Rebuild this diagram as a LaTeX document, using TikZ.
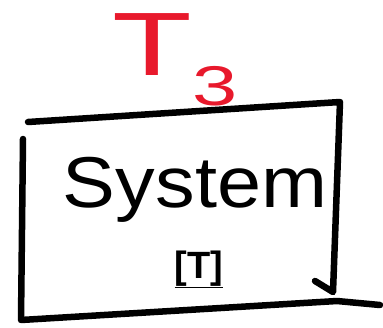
\documentclass[tikz,border=0pt]{standalone}
\usepackage{fontspec}
\setmainfont{Liberation Sans}
\definecolor{penred}{HTML}{E8192C}
\begin{document}
\begin{tikzpicture}[x=1pt,y=-1pt,
  pen/.style={line width=6.5pt,line cap=round,line join=round,black}]
\useasboundingbox (0,0) rectangle (383,327);
% box
\coordinate (tl) at (28,122);
\coordinate (tr) at (340,102);
\coordinate (br) at (333,292);
\coordinate (hk) at (315,281);
\coordinate (lt) at (23,139);
\coordinate (lb) at (21,320);
\coordinate (be) at (380,305);
\draw[pen] (tl) -- (tr) -- (br) -- (hk);
\draw[pen] (lt) -- (lb) -- (337,301) -- (be);
% labels
\node[anchor=base,inner sep=0pt,xscale=1.1,font=\fontsize{72}{72}\selectfont] (sys) at (195,207) {System};
\node[anchor=base,inner sep=0pt,font=\fontsize{38}{38}\selectfont\bfseries] (sym) at (199,278) {\underline{[T]}};
\node[anchor=base,inner sep=0pt,text=penred,xscale=1.45,font=\fontsize{90}{90}\selectfont] (t) at (175,75) {T\raisebox{-30pt}{\fontsize{56}{56}\selectfont 3}};
\end{tikzpicture}
\end{document}
